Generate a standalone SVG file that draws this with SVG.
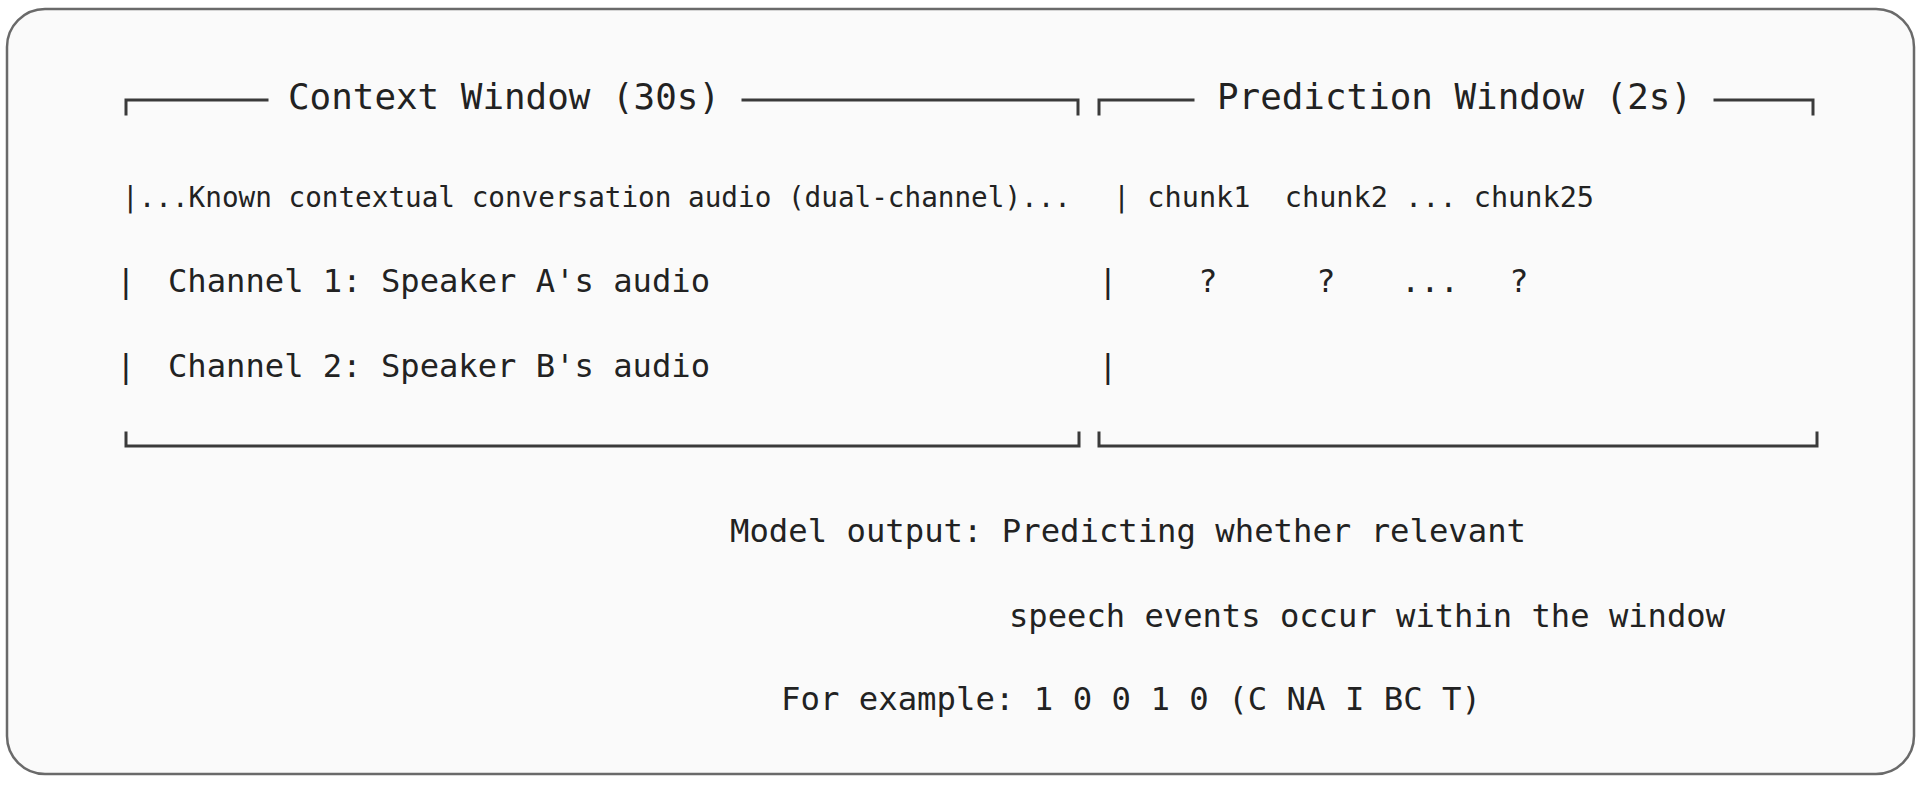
<svg xmlns="http://www.w3.org/2000/svg" width="1920" height="785" viewBox="0 0 1920 785">
<style>
.t{font-family:"DejaVu Sans Mono","Liberation Mono",monospace;fill:#222222;white-space:pre}
.h{font-size:35px}
.s{font-size:28px}
.m{font-size:32px}
.b{fill:none;stroke:#3a3a3a;stroke-width:3;stroke-linecap:square}
</style>
<rect x="0" y="0" width="1920" height="785" fill="#ffffff"/>
<rect id="frame" x="7" y="9" width="1907" height="765" rx="38" ry="38" fill="#fafafa" stroke="#6a6a6a" stroke-width="2.5"/>
<g id="context-window">
<polyline class="b" points="126,114 126,100 267,100"/>
<text class="t h" x="288" y="109" textLength="432" lengthAdjust="spacingAndGlyphs">Context Window (30s)</text>
<polyline class="b" points="743,100 1078,100 1078,114"/>
<text class="t s" x="122" y="207" textLength="949" lengthAdjust="spacingAndGlyphs">|...Known contextual conversation audio (dual-channel)...</text>
<text class="t m" x="126" y="292" text-anchor="middle">|</text>
<text class="t m" x="168" y="292" textLength="542" lengthAdjust="spacingAndGlyphs">Channel 1: Speaker A's audio</text>
<text class="t m" x="126" y="377" text-anchor="middle">|</text>
<text class="t m" x="168" y="377" textLength="542" lengthAdjust="spacingAndGlyphs">Channel 2: Speaker B's audio</text>
<polyline class="b" points="126,433 126,446 1079,446 1079,433"/>
</g>
<g id="prediction-window">
<polyline class="b" points="1099,114 1099,100 1193,100"/>
<text class="t h" x="1217" y="109" textLength="475" lengthAdjust="spacingAndGlyphs">Prediction Window (2s)</text>
<polyline class="b" points="1715,100 1813,100 1813,114"/>
<text class="t s" x="1113" y="207" xml:space="preserve" textLength="481" lengthAdjust="spacingAndGlyphs">| chunk1  chunk2 ... chunk25</text>
<text class="t m" x="1108" y="292" text-anchor="middle">|</text>
<text class="t m" x="1208" y="292" text-anchor="middle">?</text>
<text class="t m" x="1326" y="292" text-anchor="middle">?</text>
<text class="t m" x="1430" y="292" text-anchor="middle">...</text>
<text class="t m" x="1519" y="292" text-anchor="middle">?</text>
<text class="t m" x="1108" y="377" text-anchor="middle">|</text>
<polyline class="b" points="1099,433 1099,446 1817,446 1817,433"/>
</g>
<g id="model-output">
<text class="t m" x="730" y="542" textLength="796" lengthAdjust="spacingAndGlyphs">Model output: Predicting whether relevant</text>
<text class="t m" x="1009" y="627" textLength="716" lengthAdjust="spacingAndGlyphs">speech events occur within the window</text>
<text class="t m" x="781" y="710" textLength="700" lengthAdjust="spacingAndGlyphs">For example: 1 0 0 1 0 (C NA I BC T)</text>
</g>
</svg>
